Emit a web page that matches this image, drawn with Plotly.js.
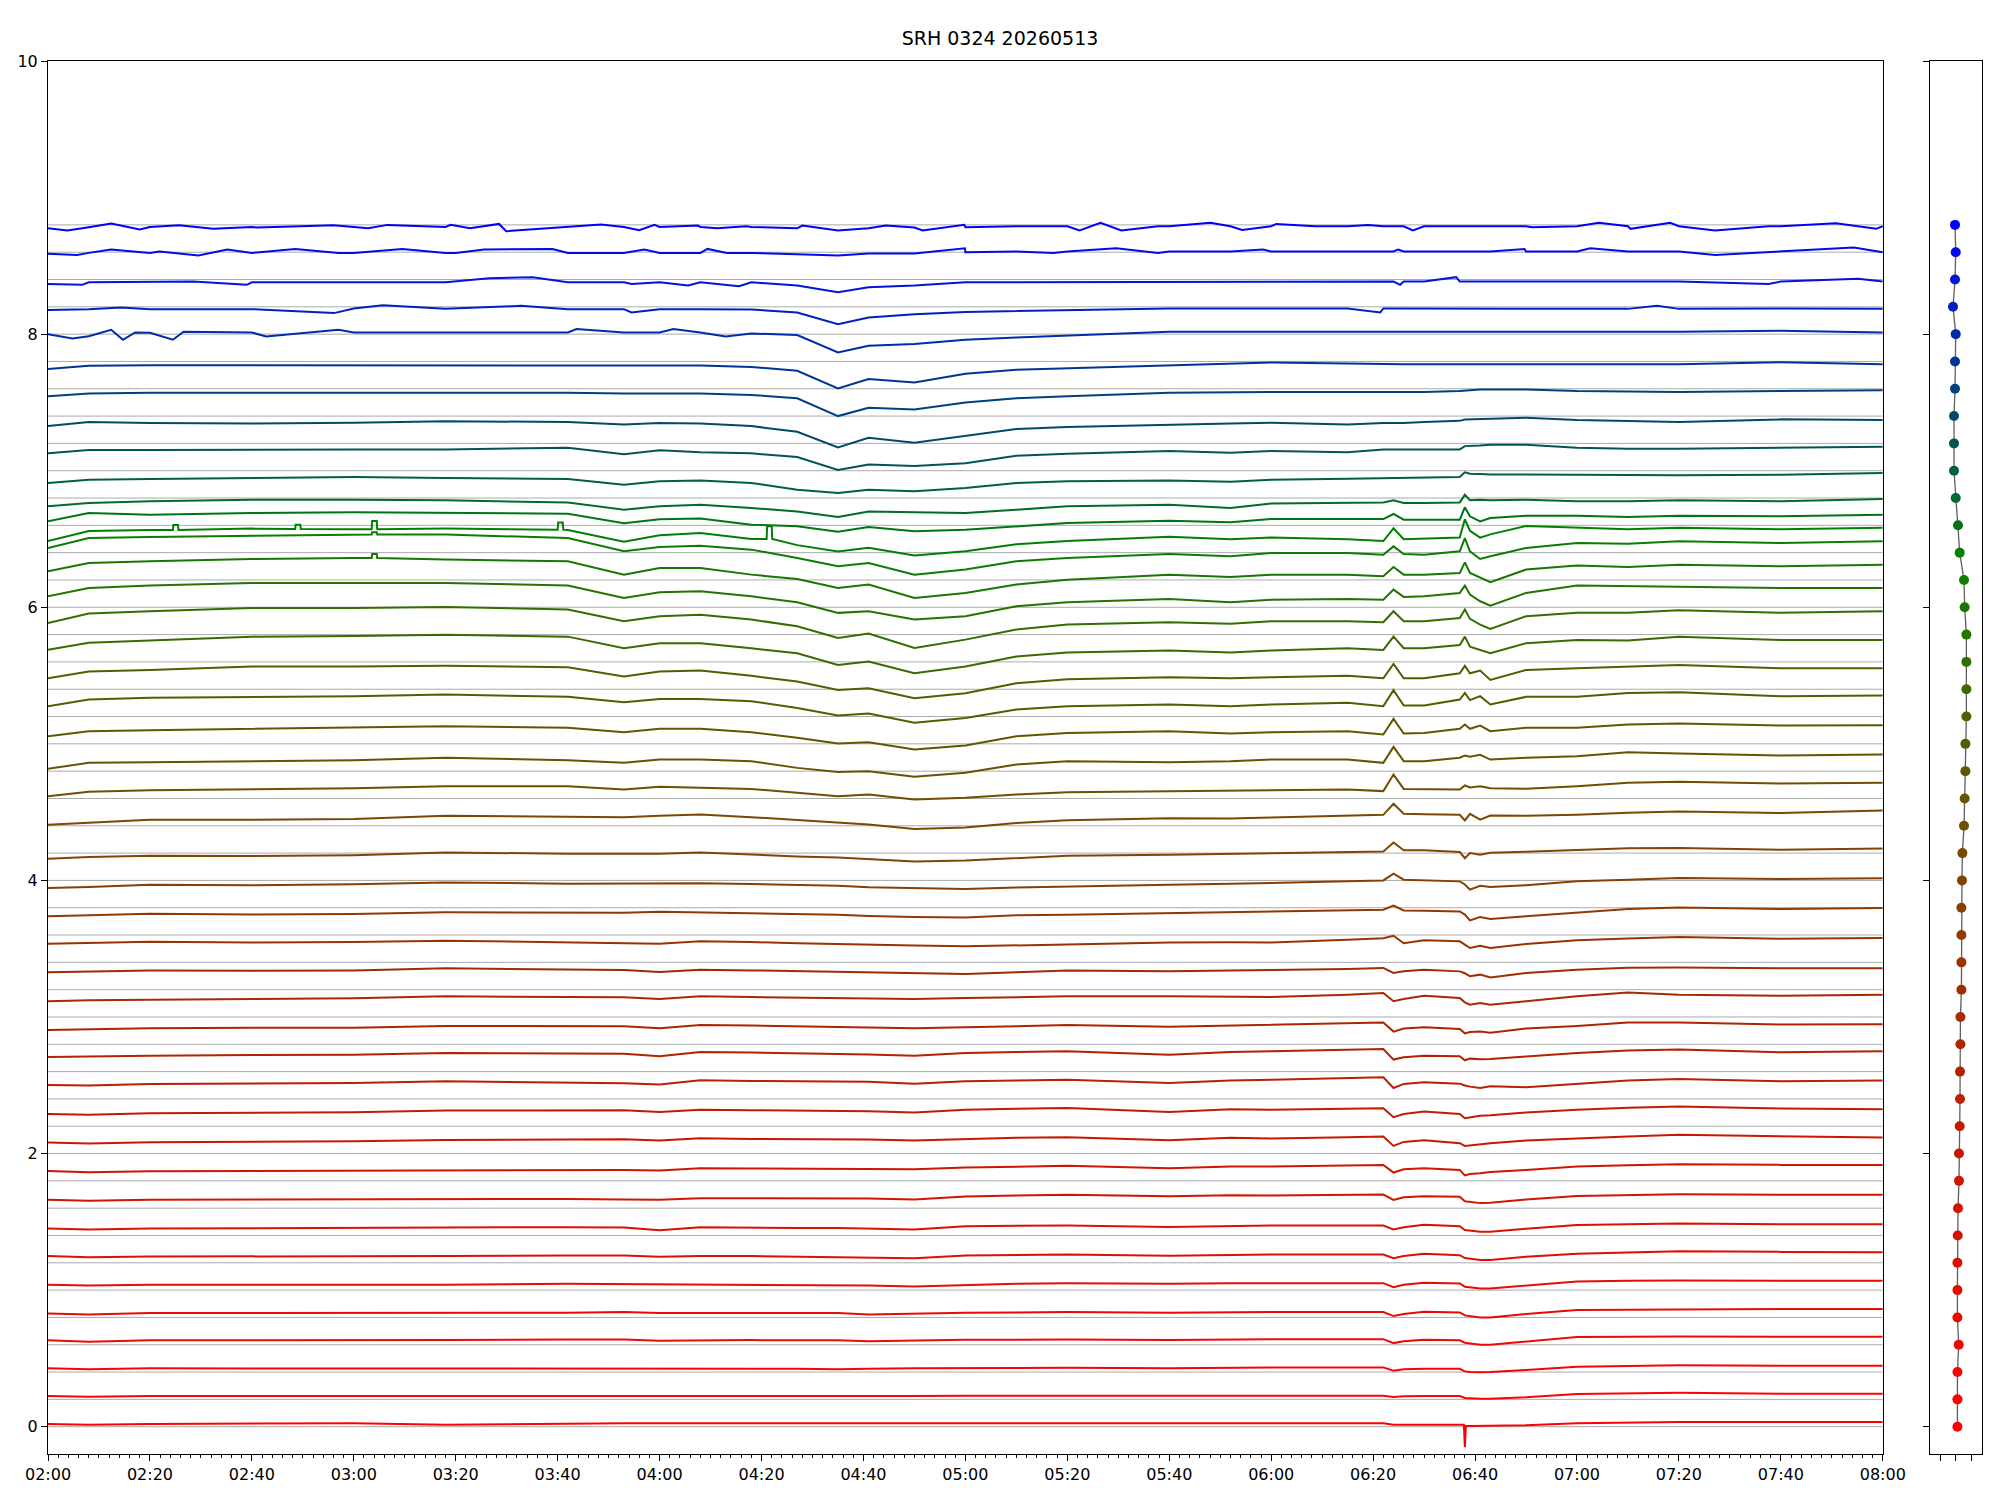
<!DOCTYPE html>
<html>
<head>
<meta charset="utf-8">
<script src="https://cdn.plot.ly/plotly-3.0.1.min.js"></script>
<style>html,body{margin:0;padding:0;background:#fff}#chart{width:2000px;height:1500px}</style>
</head>
<body>
<div id="chart"></div>
<script>
const chartTitle = 'SRH 0324 20260513';
const dayStart = [2026, 4, 13, 2, 0];
// sample times, minutes after 02:00
const minutes = [0, 8, 20, 40, 60, 78, 102, 113, 120, 128,
  138, 147, 155, 161, 170, 180, 190, 200, 220, 232,
  240, 255, 262, 264, 266, 270, 277, 278, 279, 281,
  283, 290, 300, 310, 320, 340, 360];
// vertical offset of each trace
const offsets = [0, 0.2, 0.4, 0.6, 0.8, 1.0, 1.2, 1.4, 1.6, 1.8,
  2.0, 2.2, 2.4, 2.6, 2.8, 3.0, 3.2, 3.4, 3.6, 3.8,
  4.0, 4.2, 4.4, 4.6, 4.8, 5.0, 5.2, 5.4, 5.6, 5.8,
  6.0, 6.2, 6.4, 6.6, 6.8, 7.0, 7.2, 7.4, 7.6, 7.8,
  8.0, 8.2, 8.4, 8.6, 8.8];
const yTickValues = [0, 2, 4, 6, 8, 10];
// deviations from the offset, in hundredths, at the sample times
const dev00 = [2,1.5,2,2,2.5,1.5,2.5,2.5,2.5,2.5, 2.5,2.5,2.5,2.5,2.5,2.5,2.5,2.5,2,2.5, 2.5,2.5,2.5,1.5,1.5,1.5,1.5,-15,0.5,0.5, 0.5,1,2.5,3,3.5,3.5,3.5];
const dev01 = [2.4,2,2.4,2.4,2.4,2.4,2.4,2.4,2.4,2.4, 2.4,2.4,2,2.4,2.4,2.7,2.7,2.7,2.2,2.7, 2.7,2.7,2.7,1.7,2.3,2.5,2.5,1,0.7,0.5, 0.5,1.5,4,4.5,4.8,4.2,4.2];
const dev02 = [2.7,2,2.7,2.7,2.7,2.9,3,3,2.5,2.7, 2.7,2.5,2,2.5,2.7,2.9,3,3.2,2.7,3.4, 3.4,3.4,3.4,1,2,2.4,2.4,0.5,0,-0.2, 0,1.5,3.9,4.5,4.9,4.6,4.6];
const dev03 = [3.2,2.2,3.2,3.2,3.4,3.4,3.9,3.9,3,3.4, 3.4,3.2,3.2,2.5,3.2,3.7,3.7,3.9,3.4,4.1, 4.1,4.1,4.1,1.2,2.5,3.7,3.2,1.5,1,0, 0,2.5,5.6,5.9,6.1,5.9,5.9];
const dev04 = [2.9,2.2,3.2,3.2,3.2,3.4,3.4,3.9,3.2,3.2, 3.2,3.2,3.2,2.2,2.9,3.4,3.7,3.9,3.4,3.9, 3.9,3.9,3.9,1,2.5,4.1,3.7,1.5,1,0, 0,2.5,5.4,5.6,5.9,6.1,6.1];
const dev05 = [3.9,3.4,3.9,3.9,3.9,3.9,4.6,4.4,3.9,3.9, 3.9,3.7,3.4,3.4,2.7,3.9,4.6,5.1,4.6,5.1, 5.1,5.1,5.1,2.2,3.9,5.4,4.9,2.5,2,1.2, 1.2,3.5,6.3,6.8,7.1,6.8,6.8];
const dev06 = [4.9,4.1,4.6,4.6,4.6,4.9,5.4,5.4,4.4,4.9, 4.9,4.4,4.4,4.1,3.4,5.4,5.9,6.1,5.1,5.9, 6.1,6.1,6.1,3.4,5,6.6,5.6,3.5,3,2, 2,4.5,6.6,7.5,8.5,8,7.8];
const dev07 = [5.1,4.4,5.1,5.4,5.4,5.6,6.1,5.9,3.9,6.1, 5.6,5.4,5.4,5.1,4.4,6.8,7.1,7.3,6.3,7.1, 7.3,7.3,7.3,4.4,6,7.8,6.8,4,3.5,2.7, 2.7,5,7.6,8.3,8.8,8.3,8.3];
const dev08 = [6.1,5.4,6.1,6.3,6.6,6.8,6.8,6.3,6.2,7.3, 7.1,7.1,7.1,7.1,6.3,8.5,9.3,9.8,8.8,9.5, 9.3,9.8,10,6,8,8.8,8.3,5,4.5,3.7, 4,6.3,9,9.8,10.2,9.8,9.8];
const dev09 = [7.3,6.3,7.1,7.3,7.8,8,8.3,8,7.5,9.3, 9,8.8,8.8,8.8,8.5,9.8,10.5,11,9.3,10.5, 10.5,11,11.7,6.1,8.5,9.3,8,4,5,5.5, 6.5,8,10.5,11.5,12.2,11.7,11.7];
const dev10 = [8,7.3,8.3,8.5,9,10,10.2,10.5,9.5,11.2, 10.7,10.5,10.5,10.2,9.5,10.7,11.5,12,9.8,11.5, 11,12,12.4,5.6,8.5,9.8,7.6,5.6,6,7.1, 7.5,9.5,11.2,12.5,13.7,12.5,11.7];
const dev11 = [9,8.5,9.5,9.8,10.2,11.5,11.5,11.7,10.5,12, 11.7,11.5,11.5,11,10,12,12.8,13.4,10.5,12.5, 12,13,13.2,6.6,9,10.7,9,5.9,6.5,7.6, 8,10,12,13.5,14.4,13,12.4];
const dev12 = [10.2,9.8,11,11.2,11.7,12.9,12.2,11.5,10.5,13.7, 13.2,12.9,12.9,12.5,11.2,12.9,13.5,14.1,11.7,13.5, 14.1,15,15.9,8,11,12.2,11.2,9.8,9,8, 9.3,8.5,11.2,13.5,14.6,13,13.4];
const dev13 = [10.7,11.2,11.7,12.2,12.4,13.7,13.2,13,11.2,14.4, 13.9,13.5,12.9,12.5,11.7,13.7,14.3,14.9,12.4,14.3, 14.9,16,16.6,8.8,10.5,11.7,11.2,8.3,9.5,9, 9.3,11,13.7,15.4,16.1,14.1,14.9];
const dev14 = [10.5,11,11.7,12.2,12.2,13.4,13.4,13.2,11.7,14.1, 13.7,13.2,12.9,12.5,11.7,12.4,13.5,14.1,12.9,13.8, 14.1,15.5,15.9,9.3,11.5,12.4,11.2,8,9,9.3, 8.5,11.5,13.4,15.9,15.9,14.5,14.6];
const dev15 = [11.5,12.2,12.7,13.2,13.7,15.1,14.6,14.4,13.2,15.1, 14.6,14.2,13.9,13.5,13.2,13.9,14.5,15.1,15.1,14.6, 14.6,16.3,17.6,11.5,13.2,15.6,13.9,10.7,9,10.2, 9,11.5,15.1,18,16.3,15.6,16.3];
const dev16 = [12.7,13.4,14.1,13.9,14.1,15.6,14.6,14.4,12.9,14.6, 14.1,13.5,12.9,12.5,12.2,11.5,12.7,14.1,13.4,14, 14.1,15.1,15.9,12.2,13.5,14.6,13.4,12,9.8,11, 9,12.2,14.6,16,16.3,15.6,15.6];
const dev17 = [13.7,14.1,15.1,14.6,14.9,15.9,14.4,14.1,13.7,15.4, 14.9,13.9,13.2,12.9,12.4,11.7,12.5,13.2,14.6,14.8, 14.6,16.6,17.6,19.5,14,16.1,15.4,13,10.5,12.2, 10.5,13.5,16.1,17.5,18.5,17.3,17.8];
const dev18 = [13.7,14.4,15.6,15.1,15.4,16.6,16.1,16.3,17,16.6, 16.1,15.2,14.9,14,13.2,12.9,14.5,14.9,16.1,16.6, 17.1,18,18.5,21.5,18,17.8,17.3,15,10.7,13.2, 11.7,13.7,16.1,19,20.2,19,19.8];
const dev19 = [14.4,15.1,16.8,16.5,17.1,18.5,17.6,17.6,18,18, 17.3,16.5,16.1,15,14.4,13.7,14.8,15.6,16.8,17.5, 18,19.3,20,24.9,20.5,20,19.3,17,13.2,16.1, 15.1,16.5,19.3,20.5,21.7,21,21.5];
const dev20 = [15.9,17.1,18,17.8,18.5,20.5,19.5,19.5,19.5,20.5, 18.8,17.5,16.8,15.6,13.9,14.6,16.3,18,18.8,19.5, 20,20.5,21.2,27.8,22,22,20.8,16.3,20,18.8, 20.3,21,22.4,23.5,23.7,22.4,23.4];
const dev21 = [20.7,22,24.4,24.4,24.9,27.3,26.3,26.3,27.3,28.3, 26.3,24.4,22.4,21,17.6,18.8,22,24,25.6,25.4, 26,27.5,28,36.1,28.8,28.5,28,23.9,28.8,24.5, 27.5,27.3,28,29.5,30.5,29.3,31.2];
const dev22 = [21.7,25,26,26.6,27.5,29,29,26.6,28.5,27.8, 27,24.1,21.7,22.9,19.3,20.5,22.9,24.6,25.4,25.8, 26.1,26.6,25.4,37.5,27,27,26.6,29.5,28,29, 27.5,27.1,29,31.5,32.2,31,31.5];
const dev23 = [21.7,26.1,26.6,27.3,28,29.8,28,26.1,28.5,28.5, 27.3,22.4,19.3,20,15.9,18.8,24.9,27.3,26.6,27.3, 28.5,28.5,26.1,37.8,27.3,27.3,29.8,31.5,30.5,32, 28.5,29.8,31,33.9,32.9,31.5,32.2];
const dev24 = [25.6,29.3,30,31,31.7,32.9,31.7,28.5,31,31, 28.5,24.4,20.2,21.2,15.9,18.8,25.6,28,29.3,27.6, 28.5,29.3,26.8,38.3,27.6,28,31,34.1,31,33.4, 29.3,31.7,31.7,34.1,34.9,33.4,33.7];
const dev25 = [27.6,32.4,33.7,34.4,34.9,36.1,34.4,30.5,32.9,32.9, 31.2,26.3,20.7,22.2,15.4,19,25.1,27.6,28.8,27.6, 28.8,30,27.6,39.3,28,28,32.4,37.3,32,34.9, 28.8,34.4,34.4,37.3,37.8,34.9,35.4];
const dev26 = [28,32.9,34.1,36.6,36.6,37.1,36.1,29.3,32.9,33.7, 29.8,25.6,19.5,20.7,13.4,17.1,24.4,27.3,28.8,28, 28.8,29.8,28,38.5,28,28,31.7,37.1,31.7,33.7, 26.8,34.1,35.4,36.6,37.8,35.4,35.4];
const dev27 = [28.8,34.1,35.6,38.5,39,39.8,38.5,30,33.7,33.7, 30,26.3,17.8,20.2,11.7,16.6,23.9,26.8,28.3,26.8, 28.3,30,28.8,38.5,30,30,32.4,38.5,31.2,28.8, 26.3,33.7,36.1,35.6,38.5,36.1,36.1];
const dev28 = [28.5,35.4,37.1,39.5,39.5,40.2,38.3,29.8,33.4,34.6, 31,26.1,17.6,20.7,10.2,16.3,23.7,27.3,29,28, 29.8,29.8,29,37.1,29.8,29.8,32.2,38.3,31.5,27.3, 24.1,33.4,35.9,35.9,37.8,35.9,37.1];
const dev29 = [28,34.1,35.9,37.8,37.8,37.8,35.9,26.8,31,31.7, 28,23.7,15.9,17.1,11,13.4,20.7,23.7,26.1,23.7, 25.6,26.1,25.6,32.9,27.6,28,30.5,35.9,29.3,24.4, 21.2,30.5,35.9,35.4,35.4,34.1,34.1];
const dev30 = [26.3,32.4,33.7,35.4,36.1,34.9,33.7,23.9,28.8,28.8, 23.9,20.7,14.1,16.6,6.8,10.5,16.6,20.2,23.9,22.2, 23.9,23.9,22.7,29.5,23.9,23.9,25.1,32.9,25.1,21.5, 18.3,27.6,30.5,29.5,31.2,30,31.2];
const dev31 = [23.4,30.7,31.5,32.4,33.2,33.2,30.7,21,24.1,25.1, 22.2,16.1,10,12.4,3.9,7.6,13.7,16.1,19,17.3, 19.8,19.8,18.5,24.6,19,18.5,21,30.7,21,15.4, 17.3,23.4,27.1,26.6,28.3,27.1,28.3];
const dev32 = [8.5,15.9,16.6,17.6,17.1,17.6,16.5,8,12.8,14.3, 10,5.5,0.8,3.5,-2,1,6.1,8.5,11.7,9.8, 11,9.8,8.5,17.8,9.8,10.2,11,24.4,15.9,11, 13.4,19.5,18.3,17.1,18.3,17.1,18.3];
const dev33 = [2.9,9,7.8,9,9.5,9,8.5,1.5,4.4,5, 0.5,-0.7,-4.7,-1.3,-4.4,-3.2,-0.7,1.7,3.4,2.2, 4.6,4.6,4.6,8.3,4.1,4.1,4.1,13.2,6.6,2.9, 5.4,7.1,7.1,6.1,7.1,6.6,7.8];
const dev34 = [-6.1,-3.7,-2.4,-1.2,-1.2,-1.7,-3.2,-8.5,-6.1,-4.9, -7.3,-9.8,-13.9,-9.8,-10.5,-11,-8.5,-6.1,-4.9,-7.3, -4.1,-3.7,-3.2,-1.7,-3.7,-3.7,-3.2,2.4,-1.7,-1.2, -1.7,-1.2,-2.4,-2.4,-1.7,-2.4,-0.7];
const dev35 = [-9,-6.6,-6.1,-5.4,-4.6,-5.4,-6.1,-10.2,-7.8,-7.1, -9,-13.9,-16.3,-13.9,-15.1,-12.7,-9,-7.8,-7.1,-8, -6.6,-5.9,-5.4,-5.4,-5.4,-5.1,-4.6,-1.2,-2.2,-2.4, -2.7,-2.7,-2.7,-3.2,-3.4,-2.9,-1.7];
const dev36 = [-7.3,-4.9,-4.9,-4.4,-4.4,-4.4,-3.2,-8,-5,-6.5, -7.3,-10,-19.5,-15.4,-16.6,-14.5,-9,-7.5,-5.6,-6.8, -5.6,-6.5,-4.4,-4.4,-4.4,-4.4,-4.4,-2,-2,-1.5, -1,-1,-3.2,-3.9,-3.9,-3.2,-2.4];
const dev37 = [-7.3,-4.4,-5,-5.4,-4.9,-3.7,-4.4,-6.1,-5,-5.5, -7.3,-11.5,-23,-15.9,-19.5,-14.5,-9.5,-8,-6.1,-5.5, -4.9,-6.1,-5,-5,-5,-4.4,-3.5,-2.5,-2.4,-2, -1.5,-1.2,-2.9,-3.7,-4.4,-2.4,-2.9];
const dev38 = [-5.4,-3.4,-2.9,-2.9,-2.9,-2.9,-2.9,-3.5,-3.5,-3.5, -4.5,-7,-20,-13.9,-15.1,-10,-7,-5.4,-2.9,-2.5, -2.4,-2.4,-2.4,-2.4,-2.4,-2.4,-1.7,-1.2,-1,-0.5, -0.5,-0.5,-1.7,-2.2,-2.4,-1.7,-1];
const dev39 = [-5.6,-3.2,-2.7,-2.7,-2.7,-2.7,-2.7,-2.7,-2.7,-3, -4,-6.8,-19.8,-12.9,-15.4,-9,-6,-5,-2.7,-2, -0.7,-1.5,-2,-2,-2,-2,-2,-2,-2,-2, -2,-2,-2,-2,-2,-0.5,-2];
const dev40 = [0,-1.5,1,1.2,1.2,1.2,1.2,1.2,1.2,1.2, 0.5,-0.7,-13.4,-8.5,-7.3,-4.1,-2.5,-1.2,1.7,1.7, 1.7,1.2,1.2,1.2,1.2,1.2,1.2,1.2,1.2,1.2, 1.2,1.2,1.7,1.7,1.7,2.5,1.2];
const dev41 = [-2.4,-1.7,-1.7,-1.7,-1.2,-1.5,-1.7,-1.7,-1.7,-1.7, -2,-4.1,-12.7,-7.8,-5.4,-3.7,-3,-2.2,-1.2,-1.2, -1.2,-1.2,-1.2,-1.2,-1.2,-1.2,-1.2,-1.2,-1.2,-1.2, -1.2,-1.2,-1.2,-1.5,-1.5,-1.2,-1.5];
const dev42 = [-3.2,-2,-2,-2,-2,-2,-2,-2,-2,-2, -2,-4.4,-9.3,-5.6,-4.4,-2,-2,-2,-1.5,-1.5, -1.5,-1.5,-1.5,-1.5,-1.5,-1.5,-1.5,-1.5,-1.5,-1.5, -1.5,-1.5,-1.5,-1.5,-1.5,-1.5,-1.5];
const dev43 = [-1.2,-0.5,-0.5,-0.5,-0.5,-0.5,-0.5,-0.5,-0.5,-0.5, -0.5,-1.5,-2.4,-1,-1,0,0.5,0.5,0.5,0.5, 0.5,0.5,0.5,0.5,0.5,0.5,0.5,0.5,0.5,0.5, 0.5,0.5,0.5,0.5,0.5,0.5,0];
const dev44 = [-2.4,-1.7,-1.5,-1.5,-1.5,-1.5,-1.5,-1.5,-1.5,-1.5, -1.5,-2.5,-4.1,-2.5,-2,-1.7,-1,-1,-1,-1, -1,-1,-1,-1,-1,-1,-1,-1,-1,-1, -1,-1,-1,-1,-1,-1,-1];
const devRows = [dev00,dev01,dev02,dev03,dev04,dev05,dev06,dev07,dev08,dev09,
  dev10,dev11,dev12,dev13,dev14,dev15,dev16,dev17,dev18,dev19,
  dev20,dev21,dev22,dev23,dev24,dev25,dev26,dev27,dev28,dev29,
  dev30,dev31,dev32,dev33,dev34,dev35,dev36,dev37,dev38,dev39,
  dev40,dev41,dev42,dev43,dev44];
// extra samples: [trace, minute, deviation]
const extraPoints = [[0,277.8,1.5],[0,278.2,0.5],
  [40,4.8,-3.2],[40,12.4,3.2],[40,14.7,-4.1],[40,17.1,1.2],[40,24.5,-4.1],[40,26.6,1.7],[40,42.8,-1.7],[40,57,3.2],[40,103.7,3.7],[40,122.7,3.7],[40,133,-1.7],
  [41,14.3,-0.5],[41,56.1,-4.6],[41,65.7,1.2],[41,92.8,0.7],[41,114.5,-4.1],[41,261.4,-4.1],[41,315.7,0.7],
  [42,6.7,-3.9],[42,28.5,-1.5],[42,39,-3.9],[42,86.6,1],[42,95.1,1.7],[42,114.5,-3.2],[42,125.6,-4.4],[42,135.6,-4.9],[42,265.3,-3.9],[42,276.3,1.7],[42,337.6,-3.2],[42,355.2,0.5],
  [43,5.7,-2],[43,12.4,2],[43,21.9,0.5],[43,29.5,-2.4],[43,35.2,2],[43,48.5,2.4],[43,57,-0.5],[43,69.5,2.4],[43,80,-0.5],[43,85.6,2],[43,99,2.4],[43,109.4,-0.5],[43,117,2],[43,129.4,2.4],[43,133.2,-0.5],
  [43,179.9,2.9],[43,197.3,-0.5],[43,209.6,2.9],[43,217.8,-0.5],[43,238.4,2],[43,259,0],[43,264.9,2],[43,289.7,2.4],[43,302.6,2.9],[43,327.1,-2],[43,354.3,3.4],
  [44,3.8,-4.1],[44,12.4,1],[44,18,-3.4],[44,25.7,-0.2],[44,32.4,-2.9],[44,41,-2],[44,49.5,-1],[44,56,-0.2],[44,62.8,-2.4],[44,66.6,0],[44,79,0],[44,82.8,-2.4],[44,88.5,0.7],[44,89.9,-4.6],
  [44,98,-2.4],[44,108.5,0.2],[44,116,-3.9],[44,119,0],[44,127.5,-0.5],[44,131.3,-2.4],[44,137,-1],[44,148,-0.5],[44,164.4,-0.5],[44,171.6,-4.1],[44,179.8,0],[44,193.2,-1],
  [44,202.4,-4.1],[44,206.5,1.5],[44,210.6,-4.1],[44,217.8,-1],[44,228.1,1.5],[44,234.3,-3.7],[44,241,0.7],[44,248.6,-1],[44,259,0],[44,267.8,-4.1],[44,291.2,-1.7],
  [44,304.3,1.5],[44,310.5,-2.9],[44,318.3,1.5],[44,327.1,-4.1],[44,337.6,-1],[44,350.8,1.2],[44,358.7,-2.9]];
// short rectangular glitches: [trace, minute, base deviation, top deviation]
const glitches = [[32,25,16.6,20.2],[32,49,17.3,20.5],[32,64,17.1,23.2],[32,100.5,16.8,22],[32,141.5,10,19.3],
  [31,64,33.2,35],[30,64,36.1,39]];
// right-hand panel: horizontal position of each marker
const dotX = [0.055,0.055,0.055,0.097,0.055,0.055,0.055,0.065,0.074,0.106,
  0.106,0.129,0.139,0.139,0.152,0.152,0.184,0.184,0.184,0.184,
  0.203,0.216,0.268,0.29,0.313,0.313,0.345,0.345,0.345,0.345,
  0.29,0.268,0.129,0.074,0,-0.055,-0.055,-0.055,-0.023,-0.023,
  0,-0.087,-0.023,0,-0.023];
const colorStops = [[0,255,0,0],[10,200,25,0],[16,160,45,0],[20,130,68,0],[24,95,88,0],[28,50,110,0],[32,0,128,0],[44,0,0,255]];

function colorFor(i){
  for(let k=0;k<colorStops.length-1;k++){
    const a=colorStops[k], b=colorStops[k+1];
    if(i>=a[0] && i<=b[0]){
      const f=(i-a[0])/(b[0]-a[0]);
      const c=[1,2,3].map(j=>Math.round(a[j]+(b[j]-a[j])*f));
      return 'rgb('+c.join(',')+')';
    }
  }
  return 'rgb(0,0,255)';
}
function toTime(m){
  const ms = Date.UTC(dayStart[0],dayStart[1],dayStart[2],dayStart[3],dayStart[4]) + Math.round(m*60)*1000;
  return new Date(ms).toISOString().slice(0,19).replace('T',' ');
}

const traces = [];
devRows.forEach((row,i)=>{
  if(row.length!==minutes.length) throw new Error('row '+i+' has '+row.length+' values');
  let pts = minutes.map((m,k)=>[m,row[k]]);
  extraPoints.filter(e=>e[0]===i).forEach(e=>pts.push([e[1],e[2]]));
  glitches.filter(g=>g[0]===i).forEach(g=>{
    pts.push([g[1]-0.5,g[2]],[g[1]-0.4,g[3]],[g[1]+0.5,g[3]],[g[1]+0.6,g[2]]);
  });
  pts.sort((a,b)=>a[0]-b[0]);
  traces.push({
    type:'scatter', mode:'lines', xaxis:'x', yaxis:'y',
    x: pts.map(p=>toTime(p[0])),
    y: pts.map(p=>offsets[i]+p[1]/100),
    line:{color:colorFor(i), width:2},
    hoverinfo:'skip'
  });
});
traces.push({type:'scatter', mode:'lines', xaxis:'x2', yaxis:'y2', x:dotX, y:offsets,
  line:{color:'rgba(40,40,40,0.75)', width:1.3}, hoverinfo:'skip'});
traces.push({type:'scatter', mode:'markers', xaxis:'x2', yaxis:'y2', x:dotX, y:offsets,
  marker:{color:offsets.map((o,i)=>colorFor(i)), size:10, line:{width:0}}, hoverinfo:'skip'});

const shapes = offsets.map(o=>({type:'line', xref:'x', yref:'y', x0:toTime(0), x1:toTime(360), y0:o, y1:o,
  line:{color:'#ababab', width:1}, layer:'below'}));

const axisCommon = {showline:true, linecolor:'#000', linewidth:1, mirror:true, showgrid:false, zeroline:false,
  ticks:'outside', ticklen:6, tickwidth:1, tickcolor:'#000'};

const layout = {
  width:2000, height:1500,
  margin:{l:48, r:17.7, t:61, b:46, pad:0},
  paper_bgcolor:'#fff', plot_bgcolor:'#fff', showlegend:false,
  font:{family:'DejaVu Sans, sans-serif', size:16, color:'#000'},
  title:{text:chartTitle, x:0.5, xref:'container', xanchor:'center', y:1-38/1500, yref:'container', yanchor:'middle', font:{size:19}},
  xaxis:Object.assign({}, axisCommon, {type:'date', domain:[0,0.9487], range:[toTime(0),toTime(360)],
    tick0:toTime(0), dtick:20*60000, tickformat:'%H:%M',
    minor:{dtick:2*60000, ticks:'outside', ticklen:3, tickcolor:'#000', showgrid:false}}),
  yaxis:Object.assign({}, axisCommon, {range:[-0.2,10], tickvals:yTickValues}),
  xaxis2:Object.assign({}, axisCommon, {domain:[0.9733,1], range:[-0.82,0.85], tickvals:[-0.5,0,0.5], showticklabels:false, anchor:'y2'}),
  yaxis2:Object.assign({}, axisCommon, {anchor:'x2', range:[-0.2,10], tickvals:yTickValues, showticklabels:false}),
  shapes:shapes
};

Plotly.newPlot('chart', traces, layout, {staticPlot:true, displayModeBar:false});
</script>
</body>
</html>
